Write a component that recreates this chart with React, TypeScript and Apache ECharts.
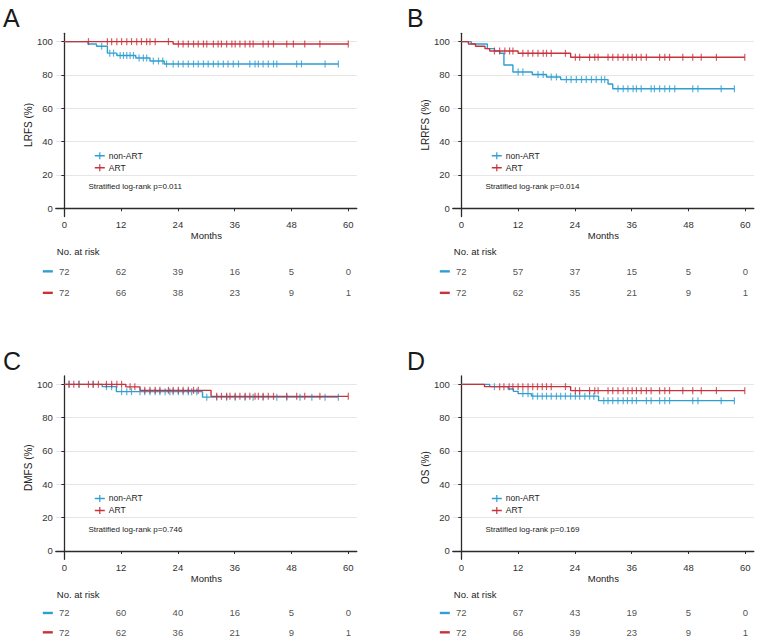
import React, { useEffect, useRef } from "react";
import * as echarts from "echarts";

// Kaplan-Meier curves for four endpoints, ART vs non-ART, with risk tables.

const BLUE = "#2f9fd3";
const RED = "#c8323c";
const FONT = "'Liberation Sans', Arial, Helvetica, sans-serif";

const GROUPS = ["non-ART", "ART"];
const MONTH_TICKS = [0, 12, 24, 36, 48, 60];
const PERCENT_TICKS = [0, 20, 40, 60, 80, 100];

// Step points: [month, survival %]; censor lists: months of censored patients.
// Panel A: LRFS
const lrfsNonArtSteps = [[0, 100], [5.0, 98.6], [6.8, 97.2], [9.1, 93.1], [11.1, 91.7], [15.1, 90.2], [18.1, 88.4], [21.1, 86.6]];
const lrfsNonArtCensor = [7.9, 9.6, 10.4, 11.8, 12.5, 13.2, 13.9, 14.6, 15.8, 16.7, 17.4, 18.8, 19.9, 20.8, 21.6, 23.0, 24.1, 25.1, 26.2, 27.3, 28.3, 29.4, 30.4, 31.5, 32.5, 33.6, 34.6, 35.7, 36.8, 39.2, 40.3, 41.0, 42.0, 43.1, 44.2, 44.9, 49.1, 50.1, 55.1, 57.9];
const lrfsArtSteps = [[0, 100], [23.0, 98.6]];
const lrfsArtCensor = [5.1, 9.1, 10.0, 11.1, 12.1, 13.2, 14.2, 15.3, 16.3, 17.4, 18.1, 19.2, 22.0, 24.1, 25.1, 26.2, 27.3, 28.3, 29.4, 30.1, 31.5, 32.5, 33.2, 34.3, 35.4, 36.1, 37.1, 38.2, 39.2, 39.9, 42.0, 43.1, 44.2, 47.0, 48.4, 50.8, 54.0, 60.0];
const lrfsNonArtRisk = [72, 62, 39, 16, 5, 0];
const lrfsArtRisk = [72, 66, 38, 23, 9, 1];

// Panel B: LRRFS
const lrrfsNonArtSteps = [[0, 100], [2.1, 98.6], [5.5, 95.8], [7.0, 94.4], [8.1, 93.0], [9.0, 86.0], [10.9, 81.8], [15.0, 80.3], [18.0, 78.8], [21.0, 77.2], [31.0, 74.6], [32.0, 71.7]];
const lrrfsNonArtCensor = [12.0, 13.0, 16.2, 17.3, 19.0, 20.1, 22.2, 23.2, 24.3, 25.4, 26.4, 27.5, 28.5, 29.6, 30.3, 33.1, 34.2, 35.2, 36.3, 37.0, 38.0, 40.1, 40.8, 41.9, 43.0, 44.0, 45.1, 48.9, 50.0, 54.9, 57.7];
const lrrfsArtSteps = [[0, 100], [1.5, 98.6], [3.0, 97.2], [5.0, 95.8], [6.0, 94.4], [12.0, 93.0], [23.1, 90.6]];
const lrrfsArtCensor = [7.0, 8.1, 9.2, 10.2, 10.9, 13.0, 14.1, 15.1, 16.2, 17.3, 18.0, 19.0, 22.0, 24.1, 25.0, 27.1, 28.2, 28.9, 31.0, 32.0, 33.1, 34.2, 35.2, 36.1, 37.0, 38.0, 39.1, 41.9, 43.0, 44.0, 46.8, 48.9, 50.7, 53.9, 59.9];
const lrrfsNonArtRisk = [72, 57, 37, 15, 5, 0];
const lrrfsArtRisk = [72, 62, 35, 21, 9, 1];

// Panel C: DMFS
const dmfsNonArtSteps = [[0, 100], [8.0, 98.6], [11.0, 95.6], [29.2, 92.3]];
const dmfsNonArtCensor = [1.0, 3.1, 6.1, 8.9, 10.0, 12.1, 13.2, 14.2, 16.0, 17.0, 18.1, 19.2, 20.2, 21.3, 22.3, 23.0, 24.1, 25.1, 26.2, 26.9, 28.0, 30.1, 32.2, 34.3, 36.1, 38.2, 39.9, 42.0, 44.9, 47.0, 49.8, 52.3, 55.1, 57.9];
const dmfsArtSteps = [[0, 100], [13.0, 98.5], [16.0, 96.4], [31.0, 92.8]];
const dmfsArtCensor = [1.0, 2.0, 3.1, 5.1, 6.1, 7.2, 8.9, 10.0, 11.1, 12.1, 13.9, 14.9, 17.0, 18.1, 19.2, 20.2, 22.0, 23.0, 24.1, 25.1, 26.2, 27.3, 28.3, 32.2, 33.2, 34.3, 35.0, 36.1, 37.1, 38.2, 39.2, 40.3, 41.0, 42.0, 43.1, 44.2, 47.0, 49.1, 50.8, 54.0, 60.0];
const dmfsNonArtRisk = [72, 60, 40, 16, 5, 0];
const dmfsArtRisk = [72, 62, 36, 21, 9, 1];

// Panel D: OS
const osNonArtSteps = [[0, 100], [6.0, 98.6], [9.9, 97.2], [11.0, 95.8], [12.0, 94.4], [14.8, 92.9], [29.0, 90.2]];
const osNonArtCensor = [7.0, 13.0, 14.1, 15.1, 16.1, 17.1, 18.0, 19.0, 20.1, 21.0, 22.0, 23.1, 24.1, 25.0, 26.1, 27.1, 28.0, 30.1, 31.0, 32.0, 33.1, 34.2, 35.1, 36.1, 37.0, 39.1, 40.1, 41.9, 43.0, 44.0, 48.9, 50.0, 54.9, 57.7];
const osArtSteps = [[0, 100], [4.9, 98.6], [23.1, 96.2]];
const osArtCensor = [8.1, 9.0, 10.1, 10.9, 12.0, 13.0, 14.1, 15.1, 16.1, 17.1, 18.0, 19.0, 22.0, 24.1, 25.0, 27.1, 28.2, 28.9, 31.0, 32.0, 33.1, 34.2, 35.2, 36.1, 37.0, 38.0, 39.1, 40.1, 41.9, 43.0, 44.0, 46.8, 48.9, 50.7, 53.9, 59.9];
const osNonArtRisk = [72, 67, 43, 19, 5, 0];
const osArtRisk = [72, 66, 39, 23, 9, 1];

const PANEL_LETTERS = ["A", "B", "C", "D"];
const Y_NAMES = ["LRFS (%)", "LRRFS (%)", "DMFS (%)", "OS (%)"];
const P_TEXTS = [
  "Stratified log-rank p=0.011",
  "Stratified log-rank p=0.014",
  "Stratified log-rank p=0.746",
  "Stratified log-rank p=0.169",
];

const PANEL_DATA = [
  { nonArt: [lrfsNonArtSteps, lrfsNonArtCensor, lrfsNonArtRisk], art: [lrfsArtSteps, lrfsArtCensor, lrfsArtRisk] },
  { nonArt: [lrrfsNonArtSteps, lrrfsNonArtCensor, lrrfsNonArtRisk], art: [lrrfsArtSteps, lrrfsArtCensor, lrrfsArtRisk] },
  { nonArt: [dmfsNonArtSteps, dmfsNonArtCensor, dmfsNonArtRisk], art: [dmfsArtSteps, dmfsArtCensor, dmfsArtRisk] },
  { nonArt: [osNonArtSteps, osNonArtCensor, osNonArtRisk], art: [osArtSteps, osArtCensor, osArtRisk] },
];

// Layout of the 2x2 panel grid
const PLOT_W = 301;
const PLOT_H = 183.3;
const LEFTS = [55.8, 452.8, 55.8, 452.8];
const TOPS = [33.3, 33.3, 376, 376];
const X_MIN = -1.8;
const X_MAX = 61.8;
const Y_MIN = -5;
const Y_MAX = 105;

const TEXT = "#222";
const AXIS = "#2b2b2b";
const PLUS_ICON = "path://M0,2.9 H10 V4.3 H0 Z M4.4,0 H5.6 V7 H4.4 Z";

function survivalAt(steps: number[][], t: number): number {
  let s = steps[0][1];
  for (const [m, v] of steps) {
    if (m <= t) s = v;
  }
  return s;
}

function curveData(steps: number[][], censor: number[]): number[][] {
  const last = censor[censor.length - 1];
  const pts = steps.map((p) => [p[0], p[1]]);
  pts.push([last, survivalAt(steps, last)]);
  return pts;
}

function buildOption(): echarts.EChartsOption {
  const grid: any[] = [];
  const xAxis: any[] = [];
  const yAxis: any[] = [];
  const series: any[] = [];
  const legend: any[] = [];
  const graphic: any[] = [];

  PANEL_DATA.forEach((panel, i) => {
    const L = LEFTS[i];
    const T = TOPS[i];
    const bottom = T + PLOT_H;
    const plotIdx = i * 2;
    const riskIdx = i * 2 + 1;

    grid.push({ left: L, top: T, width: PLOT_W, height: PLOT_H });
    grid.push({ left: L, top: bottom + 44, width: PLOT_W, height: 43 });

    xAxis.push({
      type: "value",
      gridIndex: plotIdx,
      min: X_MIN,
      max: X_MAX,
      name: "Months",
      nameLocation: "middle",
      nameGap: 14,
      nameTextStyle: { fontSize: 9.5, color: TEXT, fontFamily: FONT },
      axisLine: { show: true, lineStyle: { color: AXIS, width: 1.3 } },
      axisTick: { show: true, length: 3, customValues: MONTH_TICKS, lineStyle: { color: AXIS } },
      axisLabel: { customValues: MONTH_TICKS, fontSize: 9.5, color: "#333", margin: 3, fontFamily: FONT },
      splitLine: { show: false },
    });
    xAxis.push({
      type: "value",
      gridIndex: riskIdx,
      min: X_MIN,
      max: X_MAX,
      show: false,
    });

    yAxis.push({
      type: "value",
      gridIndex: plotIdx,
      min: Y_MIN,
      max: Y_MAX,
      name: Y_NAMES[i],
      nameLocation: "middle",
      nameGap: 22,
      nameTextStyle: { fontSize: 10, color: TEXT, fontFamily: FONT },
      axisLine: { show: true, lineStyle: { color: AXIS, width: 1.3 } },
      axisTick: { show: true, length: 3, customValues: PERCENT_TICKS, lineStyle: { color: AXIS } },
      axisLabel: { customValues: PERCENT_TICKS, fontSize: 9.5, color: "#333", margin: 3, fontFamily: FONT },
      splitLine: { show: true, lineStyle: { color: "#e6e6e6", width: 1 } },
    });
    yAxis.push({
      type: "category",
      gridIndex: riskIdx,
      data: GROUPS,
      inverse: true,
      axisLine: { show: false },
      axisTick: { show: false },
      splitLine: { show: false },
      axisLabel: {
        margin: 3,
        formatter: (v: string) => (v === "non-ART" ? "{b| }" : "{r| }"),
        rich: {
          b: { width: 10, height: 2.4, backgroundColor: BLUE },
          r: { width: 10, height: 2.4, backgroundColor: RED },
        },
      },
    });

    const groups: [string, string, any[]][] = [
      ["non-ART", BLUE, panel.nonArt],
      ["ART", RED, panel.art],
    ];
    groups.forEach(([name, color, [steps, censor, risk]], gi) => {
      series.push({
        type: "line",
        name,
        xAxisIndex: plotIdx,
        yAxisIndex: plotIdx,
        step: "end",
        symbol: "none",
        showSymbol: false,
        color,
        lineStyle: { color, width: 1.4 },
        data: curveData(steps, censor),
        z: 3 + gi,
        silent: true,
      });
      series.push({
        type: "scatter",
        name: name + " censored",
        xAxisIndex: plotIdx,
        yAxisIndex: plotIdx,
        symbol: "rect",
        symbolSize: [1.2, 7],
        itemStyle: { color },
        data: (censor as number[]).map((t) => [t, survivalAt(steps, t)]),
        z: 3 + gi,
        silent: true,
      });
      series.push({
        type: "scatter",
        name: name + " at risk",
        xAxisIndex: riskIdx,
        yAxisIndex: riskIdx,
        symbolSize: 1,
        itemStyle: { color: "rgba(0,0,0,0)" },
        data: MONTH_TICKS.map((m, j) => [m, gi, (risk as number[])[j]]),
        label: {
          show: true,
          position: "inside",
          formatter: (p: any) => String(p.value[2]),
          fontSize: 9.5,
          color: TEXT,
          fontFamily: FONT,
        },
        silent: true,
      });
    });

    legend.push({
      orient: "vertical",
      left: L + 39,
      top: T + 116.4,
      padding: 0,
      itemGap: 0,
      itemWidth: 10,
      itemHeight: 7,
      selectedMode: false,
      textStyle: { fontSize: 8.5, color: TEXT, fontFamily: FONT, lineHeight: 12, padding: [0, 0, 0, -1] },
      data: GROUPS.map((g) => ({ name: g, icon: PLUS_ICON })),
    });

    graphic.push({
      type: "text",
      left: i % 2 === 0 ? 3 : 407,
      top: T - 27.5,
      style: { text: PANEL_LETTERS[i], fontSize: 25, fill: "#1a1a1a", fontFamily: FONT },
    });
    graphic.push({
      type: "text",
      x: L + 32.6,
      y: T + 153.4,
      style: { text: P_TEXTS[i], fontSize: 8, fill: TEXT, fontFamily: FONT, verticalAlign: "middle" },
    });
    graphic.push({
      type: "text",
      x: L + 1,
      y: bottom + 34.7,
      style: { text: "No. at risk", fontSize: 9.5, fill: TEXT, fontFamily: FONT, verticalAlign: "middle" },
    });
  });

  return {
    animation: false,
    backgroundColor: "#ffffff",
    textStyle: { fontFamily: FONT },
    grid,
    xAxis,
    yAxis,
    series,
    legend,
    graphic,
  };
}

export default function App() {
  const ref = useRef<HTMLDivElement>(null);
  useEffect(() => {
    document.body.style.margin = "0";
    if (!ref.current) return;
    const chart = echarts.init(ref.current, undefined, { renderer: "svg" });
    chart.setOption(buildOption());
    return () => chart.dispose();
  }, []);
  return <div ref={ref} style={{ width: 757, height: 642 }} />;
}
